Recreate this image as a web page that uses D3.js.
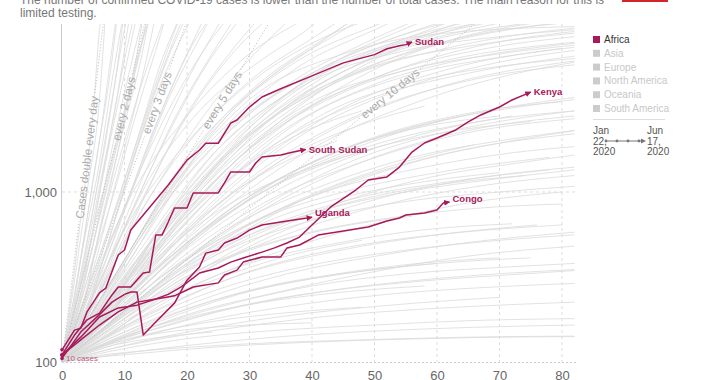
<!DOCTYPE html>
<html>
<head>
<meta charset="utf-8">
<script src="https://cdn.jsdelivr.net/npm/d3@7"></script>
<style>
  body { margin: 0; background: #fff; font-family: "Liberation Sans", Arial, sans-serif; }
</style>
</head>
<body>
<div id="chart"></div>
<script>
// days since the 100th confirmed case, confirmed cases (log)
var xTicks = [0, 10, 20, 30, 40, 50, 60, 70, 80]
var yTicks = [100, 1000]

var subtitle = ['The number of confirmed COVID-19 cases is lower than the number of total cases. The main reason for this is',
                'limited testing.']

var continents = ['Africa', 'Asia', 'Europe', 'North America', 'Oceania', 'South America']
var dateFrom = ['Jan', '22,', '2020']
var dateTo = ['Jun', '17,', '2020']

// highlighted African countries: [day, cases]
var countries = ['Sudan', 'South Sudan', 'Kenya', 'Uganda', 'Congo']
var sudan = [[0,118],[2,154],[3,158],[4,197],[6,255],[7,272],[9,426],[10,456],[11,597],[13,732],[15,898],[17,1100],
  [20,1540],[22,1766],[23,1935],[25,1935],[27,2545],[28,2650],[30,3160],[32,3620],[35,4050],[40,4820],[45,5750],
  [50,6430],[52,6960],[54,7250],[55,7360],[56,7630]]
var southSudan = [[0,110],[2,144],[4,177],[6,194],[8,248],[9,276],[11,276],[12,304],[13,334],[14,338],[15,558],[16,558],
  [17,666],[18,805],[20,805],[21,987],[25,987],[26,1130],[27,1312],[30,1312],[31,1482],[32,1607],[35,1650],[37,1718],[39,1780]]
var kenya = [[0,110],[3,140],[6,184],[9,208],[12,216],[15,235],[17,250],[19,276],[21,312],[22,334],[25,357],[27,387],
  [29,409],[32,443],[34,469],[36,501],[38,543],[40,640],[43,817],[47,1027],[49,1177],[52,1226],[54,1402],[56,1718],
  [58,1942],[60,2078],[63,2317],[65,2583],[67,2840],[70,3162],[72,3477],[75,3870]]
var uganda = [[0,105],[3,150],[6,190],[8,225],[10,250],[11,258],[12,258],[13,144],[15,172],[18,222],[20,303],[22,362],
  [23,437],[25,456],[26,501],[28,536],[30,597],[32,639],[35,666],[40,710]]
var congo = [[0,110],[3,135],[6,165],[9,197],[12,225],[16,238],[18,245],[21,276],[25,292],[26,325],[28,347],[29,387],
  [32,415],[35,415],[36,469],[38,488],[41,558],[44,582],[46,597],[49,622],[51,657],[52,675],[54,703],[55,732],
  [58,752],[60,784],[61,861],[62,873]]

// all other countries, drawn in grey
var otherCountries = [
  [[0,100],[2,300],[4,1000],[6,3500],[7,12000]],
  [[0,105],[3,400],[5,1200],[8,6000],[9,12000]],
  [[0,100],[3,250],[6,1000],[9,4000],[11,12000]],
  [[0,110],[4,400],[7,1500],[10,5000],[12,11000]],
  [[0,100],[4,300],[8,1200],[11,4000],[14,12000]],
  [[0,100],[5,350],[9,1300],[13,5000],[15,11000]],
  [[0,100],[2,220],[5,800],[7,2000],[9,6000],[10,12000]],
  [[0,100],[3,180],[6,600],[10,2500],[13,7000],[14,11000]],
  [[0,100],[5,400],[8,900],[12,3000],[16,9000],[17,12000]],
  [[0,110],[4,260],[8,700],[12,2000],[16,6000],[19,11000]],
  [[0,100],[6,420],[10,1100],[14,3200],[18,8000],[20,12000]],
  [[0,100],[5,250],[10,800],[15,2500],[20,6500],[23,11000]],
  [[0,100],[7,400],[12,1200],[17,3500],[22,8000],[24,11000]],
  [[0,100],[6,300],[12,900],[18,2700],[24,6500],[28,11000]],
  [[0,100],[1,180],[3,700],[5,3000],[6,9000],[7,15000]],
  [[0,100],[2,250],[4,700],[6,2000],[8,7000],[9,13000]],
  [[0,100],[3,300],[5,700],[8,2500],[10,6000],[12,13000]],
  [[0,100],[2,170],[5,500],[8,1800],[11,5500],[13,11000]],
  [[0,100],[4,350],[6,700],[9,2000],[12,6000],[15,13000]],
  [[0,100],[3,200],[7,800],[10,2000],[14,6000],[17,12000]],
  [[0,100],[4,200],[8,600],[12,1800],[16,5000],[20,11000]],
  [[0,100],[5,300],[9,900],[13,2600],[17,7000],[19,11000]],
  [[0,100],[3,150],[7,450],[11,1400],[16,4500],[21,11000]],
  [[0,100],[6,350],[11,1000],[16,3000],[21,7500],[25,12000]],
  [[0,100],[4,180],[9,550],[14,1500],[20,4500],[26,11000]],
  [[0,100],[5,220],[11,750],[17,2200],[23,5500],[29,11000]],
  [[0,100],[2,130],[6,350],[11,1000],[17,3000],[24,8000],[27,11000]],
  [[0,100],[7,300],[13,900],[19,2500],[26,6000],[32,11000]],
  [[0,100],[3,140],[8,380],[14,1100],[21,3200],[28,7000],[33,10500]],
  [[0,100],[6,260],[13,800],[21,2300],[29,5500],[36,10000]],
  [[0,100],[1,140],[3,400],[6,1500],[8,4500],[10,12000]],
  [[0,100],[2,200],[5,600],[9,2200],[12,6500],[13,11000]],
  [[0,100],[5,500],[8,1500],[11,4000],[13,8000],[14,12000]],
  [[0,100],[3,320],[6,1300],[8,3500],[10,9000],[11,13000]],
  [[0,100],[5,300],[10,800],[20,2800],[30,6500],[38,10000]],
  [[0,100],[6,250],[12,700],[20,1900],[30,4500],[40,8000],[45,10500]],
  [[0,100],[4,200],[10,600],[18,1600],[28,3800],[40,7500],[48,10000]],
  [[0,100],[7,350],[14,1200],[22,3000],[32,6000],[40,9500],[42,11000]],
  [[0,100],[5,180],[12,500],[22,1500],[35,4000],[50,8000],[56,10000]],
  [[0,100],[8,300],[16,900],[26,2400],[38,5500],[50,9000],[54,10500]],
  [[0,100],[6,220],[14,650],[25,2000],[40,5000],[55,8500],[62,10000]],
  [[0,100],[9,350],[18,1100],[28,2600],[40,5000],[52,7800],[60,9800]],
  [[0,100],[10,400],[20,1600],[30,3800],[40,7000],[46,10000]],
  [[0,100],[7,180],[15,450],[25,1200],[38,3200],[52,6500],[66,9800]],
  [[0,100],[12,500],[22,1900],[32,4500],[42,8000],[47,10500]],
  [[0,100],[10,280],[20,900],[32,2600],[45,5500],[60,8800],[68,10000]],
  [[0,100],[14,600],[24,2200],[34,5000],[44,8500],[48,10500]],
  [[0,100],[8,200],[18,600],[30,1700],[45,4200],[62,7800],[75,9800]],
  [[0,100],[11,300],[22,1000],[35,3000],[50,6200],[65,9000],[72,10200]],
  [[0,100],[15,500],[28,2000],[40,4800],[55,8000],[62,10000]],
  [[0,100],[8,300],[18,1200],[28,3200],[38,6000],[50,9500],[53,10500]],
  [[0,100],[9,260],[19,900],[30,2400],[42,5000],[55,8000],[66,10200]],
  [[0,100],[11,380],[23,1500],[36,3800],[50,6700],[64,9200],[70,10200]],
  [[0,100],[7,200],[17,700],[29,2100],[43,4700],[58,7600],[76,10000]],
  [[0,100],[13,420],[27,1700],[42,4200],[58,7000],[74,9300],[82,10000]],
  [[0,100],[8,220],[16,650],[26,1800],[36,3800],[46,6500],[56,9500],[58,10200]],
  [[0,100],[6,190],[15,560],[26,1600],[38,3600],[50,6300],[60,8900],[64,10000]],
  [[0,100],[12,360],[24,1250],[38,3300],[52,6000],[66,8400],[80,9900]],
  [[0,100],[10,350],[20,1400],[30,3500],[45,6500],[60,8500],[82,9400]],
  [[0,100],[12,400],[25,1800],[40,4500],[55,6800],[70,8200],[82,9000]],
  [[0,100],[8,250],[20,900],[35,3000],[50,5500],[65,7200],[82,8600]],
  [[0,100],[10,300],[25,1300],[40,3400],[55,5200],[70,6500],[82,7300]],
  [[0,100],[9,230],[22,800],[38,2600],[55,4800],[70,6200],[80,7000]],
  [[0,100],[13,450],[28,1900],[45,4600],[60,6800],[75,8600],[82,9200]],
  [[0,100],[12,330],[26,1100],[42,2900],[58,4600],[72,5600],[82,6100]],
  [[0,100],[14,380],[30,1500],[48,3400],[65,5000],[82,6300]],
  [[0,100],[10,240],[24,700],[40,1800],[58,3500],[75,5200],[82,5800]],
  [[0,100],[16,520],[32,2100],[50,4700],[68,7000],[82,8200]],
  [[0,100],[10,270],[22,950],[36,2600],[52,5000],[68,7400],[82,8800]],
  [[0,100],[15,480],[30,1800],[46,4000],[62,6000],[82,7600]],
  [[0,100],[12,300],[27,1100],[44,3000],[62,5300],[82,7100]],
  [[0,100],[9,210],[21,650],[36,1900],[54,4000],[72,6000],[82,6800]],
  [[0,100],[17,550],[33,2000],[50,4300],[66,6200],[82,7500]],
  [[0,100],[14,350],[30,1200],[48,2900],[66,4600],[82,5600]],
  [[0,100],[11,250],[25,800],[42,2200],[60,4100],[82,5900]],
  [[0,100],[10,220],[22,550],[35,1200],[50,2100],[65,2900],[80,3400]],
  [[0,100],[12,260],[25,700],[40,1500],[55,2300],[70,2800]],
  [[0,100],[8,170],[20,400],[35,900],[50,1600],[65,2300],[82,2800]],
  [[0,100],[15,350],[30,900],[45,1600],[60,2200],[75,2600]],
  [[0,100],[10,200],[20,380],[32,700],[48,1200],[62,1700],[82,2200]],
  [[0,100],[6,150],[16,320],[30,650],[45,1000],[60,1300],[78,1600]],
  [[0,100],[12,230],[24,480],[38,900],[52,1400],[66,1900]],
  [[0,100],[9,180],[18,330],[28,520],[40,750],[55,1000],[70,1200],[82,1350]],
  [[0,100],[14,280],[28,600],[42,1000],[58,1400],[72,1700],[82,1850]],
  [[0,100],[7,140],[15,230],[25,380],[38,600],[52,850],[68,1100],[82,1250]],
  [[0,100],[11,170],[22,290],[35,450],[50,650],[64,850],[80,1000]],
  [[0,100],[5,160],[10,260],[18,500],[28,900],[40,1400],[50,1800]],
  [[0,100],[8,200],[15,400],[24,800],[34,1400],[44,2000]],
  [[0,100],[10,250],[18,600],[28,1300],[38,2200],[48,3000]],
  [[0,100],[9,200],[20,480],[34,1100],[50,2000],[66,2900],[82,3600]],
  [[0,100],[13,300],[27,800],[42,1600],[58,2500],[74,3200],[82,3500]],
  [[0,100],[7,160],[18,380],[32,850],[48,1500],[64,2200],[82,2700]],
  [[0,100],[16,380],[32,1000],[48,1800],[64,2500],[82,3000]],
  [[0,100],[10,190],[24,450],[40,950],[56,1500],[72,2000],[82,2300]],
  [[0,100],[12,200],[26,420],[42,800],[58,1200],[74,1500],[82,1650]],
  [[0,100],[8,150],[20,300],[34,560],[50,900],[66,1200],[82,1400]],
  [[0,100],[14,250],[30,560],[46,900],[62,1150],[78,1350]],
  [[0,100],[10,230],[20,500],[30,950],[42,1600],[54,2300],[64,2800]],
  [[0,100],[7,180],[16,420],[26,900],[36,1600],[48,2500],[58,3200]],
  [[0,100],[11,210],[22,460],[34,900],[46,1500],[58,2100],[70,2600],[82,3000]],
  [[0,100],[15,300],[28,650],[42,1100],[56,1600],[70,2000],[82,2300]],
  [[0,100],[6,150],[14,300],[24,600],[36,1100],[48,1700],[60,2300],[72,2800]],
  [[0,100],[9,170],[19,320],[31,560],[45,850],[60,1100],[74,1250]],
  [[0,100],[10,140],[20,190],[35,260],[50,340],[65,420],[82,480]],
  [[0,100],[8,130],[18,170],[30,220],[45,270],[60,310],[82,350]],
  [[0,100],[12,150],[25,210],[40,280],[55,330],[70,360],[82,380]],
  [[0,100],[6,115],[15,135],[28,160],[42,185],[58,205],[75,220],[82,225]],
  [[0,100],[10,120],[22,140],[36,155],[50,165],[65,175],[82,180]],
  [[0,100],[5,108],[15,118],[30,128],[48,135],[65,140],[82,142]],
  [[0,100],[9,160],[18,250],[30,380],[44,500],[58,600],[72,650]],
  [[0,100],[7,130],[16,180],[26,240],[38,300],[50,350],[60,380]],
  [[0,100],[12,210],[24,380],[38,560],[52,700],[66,800],[80,850]],
  [[0,100],[10,180],[20,320],[32,480],[44,620],[56,720]],
  [[0,100],[15,170],[30,260],[45,330],[60,380],[75,410]],
  [[0,100],[8,120],[20,150],[35,185],[52,215],[70,240]],
  [[0,100],[6,140],[14,210],[24,300],[36,420],[48,520]],
  [[0,100],[11,200],[22,420],[34,700],[46,950],[58,1150],[70,1300]],
  [[0,100],[4,115],[12,140],[20,155],[30,165],[40,170]],
  [[0,100],[3,110],[8,125],[16,140],[24,150]],
  [[0,100],[10,150],[22,230],[36,330],[52,430],[68,520],[82,580]],
  [[0,100],[6,125],[16,160],[28,210],[42,260],[58,300],[74,330],[82,345]],
  [[0,100],[12,170],[24,260],[38,360],[54,450],[70,520],[82,560]],
  [[0,100],[8,110],[20,125],[34,140],[50,152],[66,160],[82,165]],
  [[0,100],[14,190],[28,320],[44,450],[60,560],[76,640]],
  [[0,100],[5,120],[12,150],[22,190],[34,230],[46,260],[58,280]],
  [[0,100],[9,145],[19,200],[31,270],[44,330],[57,380],[70,410]],
  [[0,100],[4,105],[12,112],[24,122],[38,130],[54,136],[70,140],[82,141]],
  [[0,100],[11,135],[23,175],[37,215],[52,250],[68,275],[82,290]],
  [[0,100],[7,125],[15,150],[25,175],[36,195],[48,210]],
  [[0,100],[13,240],[26,450],[40,680],[55,880],[70,1000],[82,1080]],
  [[0,100],[16,210],[32,360],[48,490],[64,580],[80,640]]
]

// doubling reference lines: start and end point of each
var doublingLabels = ['Cases double every day', 'every 2 days', 'every 3 days', 'every 5 days', 'every 10 days']
var doublingLines = [
  [[0,100],[7,12800]],
  [[0,100],[14,12800]],
  [[0,100],[21,12800]],
  [[0,100],[35,12800]],
  [[0,100],[70,12800]]
]
var doublingLabelAt = [4, 9.9, 15.2, 25.6, 52.5]

var crimson = '#a8195b'
var W = 720, H = 380
var plot = { left: 62, right: 577, top: 24, bottom: 366 }

var x = d3.scaleLinear().domain([0, 80]).range([62, 562])
var y = d3.scaleLog().domain([100, 1000]).range([362, 192])

var svg = d3.select('#chart').append('svg')
            .attr('width', W)
            .attr('height', H)

var defs = svg.append('defs')
defs.append('clipPath').attr('id', 'plot-clip')
    .append('rect')
    .attr('x', plot.left).attr('y', plot.top)
    .attr('width', plot.right - plot.left).attr('height', plot.bottom - plot.top)
defs.append('marker')
    .attr('id', 'arrow')
    .attr('viewBox', '0 0 10 10')
    .attr('refX', 9).attr('refY', 5)
    .attr('markerWidth', 6).attr('markerHeight', 6)
    .attr('markerUnits', 'userSpaceOnUse')
    .attr('orient', 'auto')
  .append('path')
    .attr('d', 'M0,0L10,5L0,10z')
    .attr('fill', crimson)

// subtitle (cut off at the top) and logo edge
svg.append('g').selectAll('text')
   .data(subtitle).enter().append('text')
   .attr('x', 20)
   .attr('y', function (d, i) { return 4 + i * 13 })
   .attr('font-size', 12)
   .attr('fill', '#777')
   .text(function (d) { return d })
svg.append('rect').attr('x', 622).attr('y', 0).attr('width', 46).attr('height', 2).attr('fill', '#d2262b')

// gridlines
svg.append('g').selectAll('line')
   .data(xTicks.slice(1)).enter().append('line')
   .attr('x1', function (d) { return x(d) }).attr('x2', function (d) { return x(d) })
   .attr('y1', plot.top).attr('y2', y(100))
   .attr('stroke', '#ddd').attr('stroke-dasharray', '3,3')
svg.append('line')
   .attr('x1', plot.left).attr('x2', plot.right)
   .attr('y1', y(1000)).attr('y2', y(1000))
   .attr('stroke', '#ddd').attr('stroke-dasharray', '3,3')
svg.append('line')
   .attr('x1', plot.left).attr('x2', plot.right)
   .attr('y1', y(100) + 0.5).attr('y2', y(100) + 0.5)
   .attr('stroke', '#ccc').attr('stroke-dasharray', '2,2')
svg.append('line')
   .attr('x1', 61.5).attr('x2', 61.5)
   .attr('y1', plot.top).attr('y2', y(100))
   .attr('stroke', '#ccc')

// axes
var xAxis = svg.append('g')
   .attr('transform', 'translate(0,' + y(100) + ')')
   .call(d3.axisBottom(x).tickValues(xTicks).tickSize(0).tickPadding(9))
var yAxis = svg.append('g')
   .attr('transform', 'translate(' + x(0) + ',0)')
   .call(d3.axisLeft(y).tickValues(yTicks).tickFormat(d3.format(',')).tickSize(0).tickPadding(5))
;[xAxis, yAxis].forEach(function (a) {
  a.select('.domain').remove()
  a.selectAll('text').attr('font-size', 13).attr('fill', '#666')
     .attr('font-family', '"Liberation Sans", Arial, sans-serif')
})

var line = d3.line()
             .x(function (d) { return x(d[0]) })
             .y(function (d) { return y(d[1]) })

var plotArea = svg.append('g').attr('clip-path', 'url(#plot-clip)')

// grey countries
plotArea.append('g').selectAll('path')
   .data(otherCountries).enter().append('path')
   .attr('d', line.curve(d3.curveMonotoneX))
   .attr('fill', 'none')
   .attr('stroke', '#dadada')
   .attr('stroke-width', 0.8)
line.curve(d3.curveLinear)

// doubling lines, with a gap for the label
var dbl = plotArea.append('g')
doublingLines.forEach(function (seg, i) {
  var x0 = x(seg[0][0]), y0 = y(seg[0][1]), x1 = x(seg[1][0]), y1 = y(seg[1][1])
  var len = Math.hypot(x1 - x0, y1 - y0)
  var ux = (x1 - x0) / len, uy = (y1 - y0) / len
  var t = (doublingLabelAt[i] - seg[0][0]) / (seg[1][0] - seg[0][0])
  var cx = x0 + (x1 - x0) * t, cy = y0 + (y1 - y0) * t
  var angle = Math.atan2(y1 - y0, x1 - x0) * 180 / Math.PI
  var label = dbl.append('text')
     .attr('transform', 'translate(' + cx + ',' + cy + ') rotate(' + angle + ')')
     .attr('text-anchor', 'middle')
     .attr('dy', '0.35em')
     .attr('font-size', 11.5)
     .attr('fill', '#aaa')
     .text(doublingLabels[i])
  var half = label.node().getComputedTextLength() / 2 + 3
  dbl.append('line')
     .attr('x1', x0).attr('y1', y0).attr('x2', cx - ux * half).attr('y2', cy - uy * half)
     .attr('stroke', '#bbb').attr('stroke-dasharray', '1,2')
  dbl.append('line')
     .attr('x1', cx + ux * half).attr('y1', cy + uy * half).attr('x2', x1).attr('y2', y1)
     .attr('stroke', '#bbb').attr('stroke-dasharray', '1,2')
})

// highlighted countries
var series = [sudan, southSudan, kenya, uganda, congo]
var labelNudge = [0, 0, 0, -5, -3]
var hl = svg.append('g')
series.forEach(function (s, i) {
  hl.append('path')
    .attr('d', line(s))
    .attr('fill', 'none')
    .attr('stroke', crimson)
    .attr('stroke-width', 1.5)
    .attr('stroke-linejoin', 'round')
    .attr('marker-end', 'url(#arrow)')
  hl.append('circle')
    .attr('cx', x(s[0][0])).attr('cy', y(s[0][1])).attr('r', 1.8)
    .attr('fill', crimson)
  var last = s[s.length - 1]
  hl.append('text')
    .attr('x', x(last[0]) + 3)
    .attr('y', y(last[1]) + labelNudge[i])
    .attr('dy', '0.35em')
    .attr('font-size', 9.5)
    .attr('font-weight', 'bold')
    .attr('fill', crimson)
    .text(countries[i])
})
svg.append('text')
   .attr('x', 66).attr('y', 361)
   .attr('font-size', 8)
   .attr('fill', '#c2557f')
   .text('10 cases')

// legend
var legend = svg.append('g').attr('transform', 'translate(593,0)')
var items = legend.selectAll('g').data(continents).enter().append('g')
   .attr('transform', function (d, i) { return 'translate(0,' + (39.5 + i * 13.8) + ')' })
items.append('rect')
   .attr('x', 0).attr('y', -3.5).attr('width', 7).attr('height', 7)
   .attr('fill', function (d, i) { return i === 0 ? crimson : '#ccc' })
items.append('text')
   .attr('x', 11).attr('dy', '0.35em')
   .attr('font-size', 10)
   .attr('fill', function (d, i) { return i === 0 ? '#333' : '#c8c8c8' })
   .text(function (d) { return d })
legend.append('line')
   .attr('x1', 0).attr('x2', 72).attr('y1', 119.5).attr('y2', 119.5)
   .attr('stroke', '#ddd')

var dates = legend.append('g')
;[dateFrom, dateTo].forEach(function (lines, j) {
  dates.selectAll(null).data(lines).enter().append('text')
     .attr('x', j === 0 ? 0 : 54)
     .attr('y', function (d, i) { return 134 + i * 10.5 })
     .attr('font-size', 10)
     .attr('fill', '#555')
     .text(function (d) { return d })
})
var tl = legend.append('g').attr('transform', 'translate(0,141)')
tl.append('line').attr('x1', 12).attr('x2', 50).attr('stroke', '#777')
tl.append('path').attr('d', 'M48,-2.5L53,0L48,2.5z').attr('fill', '#777')
tl.selectAll('circle').data([13, 24, 35, 46]).enter().append('circle')
  .attr('cx', function (d) { return d }).attr('r', 1.4).attr('fill', '#777')
</script>
</body>
</html>
